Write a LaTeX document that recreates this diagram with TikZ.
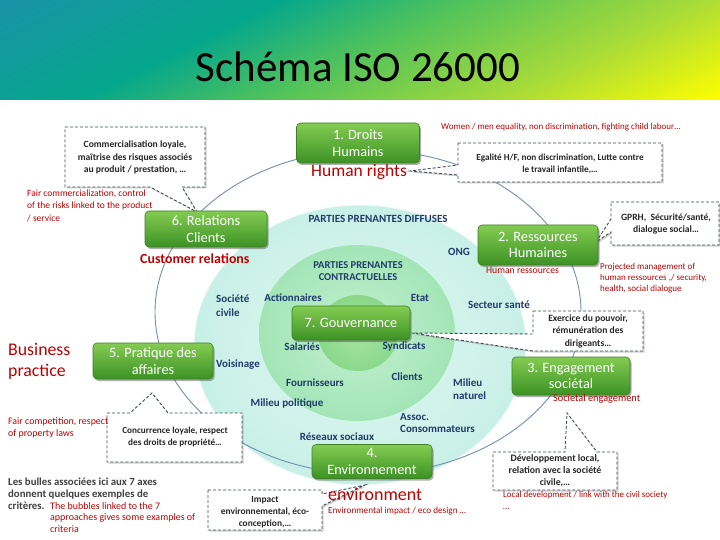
\documentclass[tikz,border=0pt]{standalone}
\usepackage{fontspec}
\setmainfont{Carlito}
\usetikzlibrary{shadows}
\definecolor{g0}{HTML}{1A93A8}
\definecolor{g1}{HTML}{05A78C}
\definecolor{g2}{HTML}{50C25C}
\definecolor{g3}{HTML}{A9DB38}
\definecolor{g4}{HTML}{FFFF00}
\definecolor{boxtop}{HTML}{84CC52}
\definecolor{boxbot}{HTML}{3C9224}
\definecolor{boxedge}{HTML}{3F7F25}
\definecolor{callline}{HTML}{3E4A57}
\definecolor{enred}{HTML}{C00000}
\definecolor{pblue}{HTML}{1F3B6E}
\definecolor{ringline}{HTML}{6F8FB5}
\definecolor{greytxt}{HTML}{404040}
\definecolor{d1in}{HTML}{E0F8F3}
\definecolor{d1out}{HTML}{C8F0E6}
\definecolor{d2in}{HTML}{C4F0D2}
\definecolor{d2out}{HTML}{A3E5B6}
\definecolor{d3in}{HTML}{A8E4A4}
\definecolor{d3out}{HTML}{8AD88A}
\begin{document}
\begin{tikzpicture}[x=1pt,y=-1pt,
  gbox/.style={draw=boxedge, line width=0.6pt, rounded corners=4pt, top color=boxtop, bottom color=boxbot, text=white, align=center, font=\fontsize{14.3}{16.5}\selectfont, inner sep=1pt, drop shadow={shadow xshift=1.5pt, shadow yshift=-2pt, opacity=0.45, fill=black!70}},
  callout/.style={draw=callline, densely dashed, line width=0.9pt, fill=white, drop shadow={shadow xshift=1.5pt, shadow yshift=-1.5pt, opacity=0.3, fill=black!60}},
  ctext/.style={font=\bfseries\fontsize{9.6}{12.5}\selectfont, align=center, text=black!85, inner sep=0pt},
  entext/.style={text=enred, inner sep=0pt, align=left},
  bl/.style={text=pblue, font=\bfseries\fontsize{11}{13}\selectfont, inner sep=0pt, align=left},
  ringstyle/.style={draw=ringline, line width=0.9pt}
]
\useasboundingbox (0,0) rectangle (720,540);
\fill[white] (0,0) rectangle (720,540);
% title band
\begin{scope}
\clip (0,0) rectangle (720,100);
\fill[g0] (0,0) rectangle (720,100);
\foreach \a/\b/\ca/\cb in {0/280/g0/g1, 280/460/g1/g2, 460/700/g2/g3, 700/920/g3/g4}{
  \pgfmathtruncatemacro{\c}{\a+5}
  \foreach \k in {\a,\c,...,\b}{
    \pgfmathtruncatemacro{\p}{(\k-\a)/(\b-\a)*100}
    \fill[\cb!\p!\ca] (\k-1,0) -- (\k+6,0) -- (\k-194,100) -- (\k-201,100) -- cycle;
  }
}
\end{scope}
\node[anchor=base, font=\fontsize{43}{45}\selectfont, inner sep=0pt] (title) at (358,82) {Schéma ISO 26000};
% discs
\shade[inner color=d1in, outer color=d1out, draw=white!75!d1out, line width=1pt] (360,345) ellipse [x radius=166, y radius=140];
\shade[inner color=d2in, outer color=d2out] (357,333) ellipse [x radius=98, y radius=88];
\shade[inner color=d3in, outer color=d3out] (358,333) ellipse [x radius=40, y radius=38];
% outer ring
\draw[ringstyle] (368,312) ellipse [x radius=213, y radius=162];
% callouts
\draw[callout] (65,127) -- (205,127) -- (205,187) -- (182,187) -- (197,212) -- (150,187) -- (65,187) -- cycle;
\draw[callout] (458,143) -- (662,143) -- (662,182) -- (458,182) -- (458,175) -- (410,171) -- (458,165) -- cycle;
\draw[callout] (611,202) -- (719,202) -- (719,245) -- (611,245) -- (611,232) -- (596,242) -- (611,219) -- cycle;
\draw[callout] (533,311) -- (643,311) -- (643,351) -- (533,351) -- (412,333) -- (533,334) -- cycle;
\draw[callout] (107,413) -- (130,413) -- (152,393) -- (168,413) -- (242,413) -- (242,462) -- (107,462) -- cycle;
\draw[callout] (208,490) -- (322,490) -- (322,494) -- (365,485) -- (322,506) -- (322,530) -- (208,530) -- cycle;
\draw[callout] (493,452) -- (565,452) -- (567,413) -- (597,452) -- (617,452) -- (617,490) -- (493,490) -- cycle;
\node[ctext] (cA) at (135,157.5) {Commercialisation loyale,\\maîtrise des risques associés\\au produit / prestation, …};
\node[ctext, font=\bfseries\fontsize{9.2}{12}\selectfont] (cB) at (560,164) {Egalité H/F, non discrimination, Lutte contre\\le travail infantile,…};
\node[ctext] (cC) at (666,224) {GPRH,\ \ Sécurité/santé,\\dialogue social…};
\node[ctext] (cD) at (588,331) {Exercice du pouvoir,\\rémunération des\\dirigeants…};
\node[ctext, font=\bfseries\fontsize{9.2}{12}\selectfont] (cE) at (175,437) {Concurrence loyale, respect\\des droits de propriété…};
\node[ctext, font=\bfseries\fontsize{9.4}{12}\selectfont] (cF) at (265,512) {Impact\\environnemental, éco-\\conception,…};
\node[ctext, font=\bfseries\fontsize{9.8}{12}\selectfont] (cG) at (555,471) {Développement local,\\relation avec la société\\civile,…};
% green boxes
\node[gbox, minimum width=123, minimum height=40] (b1) at (358,143) {1. Droits\\Humains};
\node[gbox, minimum width=120, minimum height=40] (b2) at (538,245) {2. Ressources\\Humaines};
\node[gbox, minimum width=118, minimum height=38] (b3) at (571,376) {3. Engagement\\sociétal};
\node[gbox, minimum width=120, minimum height=34] (b4) at (372,461.5) {4.\\Environnement};
\node[gbox, minimum width=120, minimum height=36] (b5) at (153,361) {5. Pratique des\\affaires};
\node[gbox, minimum width=122, minimum height=36] (b6) at (206,229) {6. Relations\\Clients};
\node[gbox, minimum width=118, minimum height=34] (b7) at (351,323) {7. Gouvernance};
% stakeholder labels
\node[bl] (pd) at (378,219) {PARTIES PRENANTES DIFFUSES};
\node[bl, align=center, font=\bfseries\fontsize{10.5}{12}\selectfont] (pc) at (358,271) {PARTIES PRENANTES\\CONTRACTUELLES};
\node[bl] (ong) at (459,252) {ONG};
\node[bl, anchor=west, font=\bfseries\fontsize{11}{14}\selectfont] (sc) at (216,306) {Société\\civile};
\node[bl] (act) at (293,298) {Actionnaires};
\node[bl] (etat) at (420,298) {Etat};
\node[bl] (sant) at (499,305) {Secteur santé};
\node[bl] (sal) at (302,347) {Salariés};
\node[bl] (syn) at (404,347) {Syndicats};
\node[bl] (vois) at (238,365) {Voisinage};
\node[bl] (four) at (315,383) {Fournisseurs};
\node[bl] (cli) at (407,377) {Clients};
\node[bl, anchor=west] (mil) at (453,389.5) {Milieu\\naturel};
\node[bl] (pol) at (287,403) {Milieu politique};
\node[bl, anchor=west, font=\bfseries\fontsize{11}{12.5}\selectfont] (asso) at (400,423) {Assoc.\\Consommateurs};
\node[bl] (res) at (337,437) {Réseaux sociaux};
% English translations
\node[entext, anchor=west, font=\fontsize{9}{10}\selectfont] (en1) at (441,127) {Women / men equality, non discrimination, fighting child labour…};
\node[entext, anchor=west, font=\fontsize{17.5}{20}\selectfont] (en2) at (311,172) {Human rights};
\node[entext, anchor=north west, font=\fontsize{9.5}{12.5}\selectfont] (en3) at (27,189.5) {Fair commercialization, control\\of the risks linked to the product\\/ service};
\node[entext, anchor=west, font=\bfseries\fontsize{13.9}{16}\selectfont] (en4) at (140,259) {Customer relations};
\node[entext, anchor=west, font=\fontsize{9.7}{10}\selectfont] (en5) at (486,270) {Human ressources};
\node[entext, anchor=north west, font=\fontsize{9}{11}\selectfont] (en6) at (600,263) {Projected management of\\human ressources ,/ security,\\health, social dialogue};
\node[entext, anchor=north west, font=\fontsize{17.8}{21.5}\selectfont] (en7) at (8,343) {Business\\practice};
\node[entext, anchor=west, font=\fontsize{10.3}{10}\selectfont] (en8) at (553,399) {Societal engagement};
\node[entext, anchor=north west, font=\fontsize{9.9}{12}\selectfont] (en9) at (8,417) {Fair competition, respect\\of property laws};
\node[entext, anchor=west, font=\fontsize{18}{20}\selectfont] (en10) at (328,494) {environment};
\node[entext, anchor=west, font=\fontsize{9.2}{10}\selectfont] (en11) at (328,511.5) {Environmental impact / eco design …};
\node[entext, anchor=north west, font=\fontsize{8.9}{12}\selectfont] (en12) at (503,491.5) {Local development / link with the civil society\\…};
\node[inner sep=0pt, anchor=north west, align=left, text=greytxt, font=\bfseries\fontsize{10.8}{12.3}\selectfont] (note) at (8,477.5) {Les bulles associées ici aux 7 axes\\donnent quelques exemples de\\critères.};
\node[entext, anchor=north west, font=\fontsize{10}{11.5}\selectfont] (en13) at (50,502) {The bubbles linked to the 7\\approaches gives some examples of\\criteria};
\end{tikzpicture}
\end{document}
